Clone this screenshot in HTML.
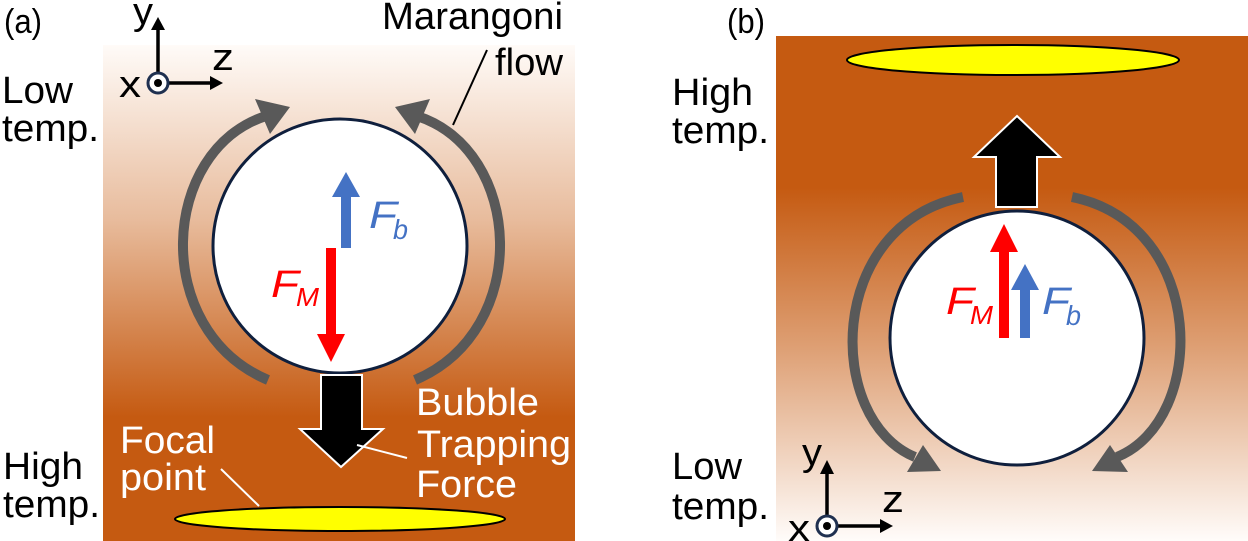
<!DOCTYPE html>
<html><head><meta charset="utf-8"><style>html,body{margin:0;padding:0;background:#fff}svg{display:block}</style></head>
<body>
<svg width="1248" height="541" viewBox="0 0 1248 541" xmlns="http://www.w3.org/2000/svg" font-family="Liberation Sans, Arial, sans-serif">
<defs>
<linearGradient id="ga" x1="0" y1="45" x2="0" y2="541" gradientUnits="userSpaceOnUse">
<stop offset="0" stop-color="#fffbf8"/><stop offset="0.35" stop-color="#e8bc9d"/><stop offset="0.75" stop-color="#c55a11"/><stop offset="1" stop-color="#c55a11"/>
</linearGradient>
<linearGradient id="gb" x1="0" y1="36" x2="0" y2="541" gradientUnits="userSpaceOnUse">
<stop offset="0" stop-color="#c55a11"/><stop offset="0.3" stop-color="#c55a11"/><stop offset="0.62" stop-color="#dea075"/><stop offset="1" stop-color="#fffcfa"/>
</linearGradient>
</defs>
<!-- Panel a -->
<rect x="103" y="45" width="472" height="496" fill="url(#ga)"/>
<ellipse cx="340" cy="519" rx="165" ry="12" fill="#ffff00" stroke="#000" stroke-width="2"/>
<g fill="none" stroke="#595959" stroke-width="10">
<path d="M268,380 C150,330 160,150 266,116"/>
<path d="M415,380 C533,330 523,150 417,116"/>
</g>
<g fill="#595959">
<polygon points="290,107 255,99 270,134"/>
<polygon points="395,107 430,99 415,134"/>
</g>
<circle cx="340" cy="246" r="127" fill="#fff" stroke="#0f1f3d" stroke-width="3"/>
<polygon points="321,375 362,375 362,429 383,429 341,467 300,429 321,429" fill="#000" stroke="#fff" stroke-width="2"/>
<rect x="341" y="195" width="10" height="53" fill="#4472c4"/>
<polygon points="332,197 360,197 346,172" fill="#4472c4"/>
<rect x="326" y="248" width="10" height="90" fill="#ff0000"/>
<polygon points="317,334 345,334 331,362" fill="#ff0000"/>
<text x="369" y="228" font-size="38" font-style="italic" fill="#4472c4" textLength="28" lengthAdjust="spacingAndGlyphs">F</text>
<text x="393" y="239" font-size="28" font-style="italic" fill="#4472c4" textLength="15" lengthAdjust="spacingAndGlyphs">b</text>
<text x="271" y="297" font-size="38" font-style="italic" fill="#ff0000" textLength="28" lengthAdjust="spacingAndGlyphs">F</text>
<text x="296" y="306" font-size="26" font-style="italic" fill="#ff0000" textLength="23" lengthAdjust="spacingAndGlyphs">M</text>
<!-- axes a -->
<line x1="158" y1="83" x2="158" y2="28" stroke="#000" stroke-width="3.5"/>
<polygon points="151,30 165,30 158,17" fill="#000"/>
<line x1="158" y1="83" x2="212" y2="83" stroke="#000" stroke-width="3.5"/>
<polygon points="210,76 210,90 223,83" fill="#000"/>
<circle cx="158" cy="83" r="10" fill="#fff" stroke="#1f3050" stroke-width="3"/>
<circle cx="158" cy="83" r="4" fill="#000"/>
<text x="133" y="24" font-size="38" textLength="20" lengthAdjust="spacingAndGlyphs">y</text>
<text x="212" y="70" font-size="38" textLength="22" lengthAdjust="spacingAndGlyphs">z</text>
<text x="119" y="97" font-size="38" textLength="22" lengthAdjust="spacingAndGlyphs">x</text>
<!-- labels a -->
<text x="4" y="33" font-size="34" textLength="38" lengthAdjust="spacingAndGlyphs">(a)</text>
<g font-size="38">
<text x="2" y="103" textLength="71" lengthAdjust="spacingAndGlyphs">Low</text>
<text x="2" y="141" textLength="97" lengthAdjust="spacingAndGlyphs">temp.</text>
<text x="3" y="479" textLength="80" lengthAdjust="spacingAndGlyphs">High</text>
<text x="3" y="517" textLength="97" lengthAdjust="spacingAndGlyphs">temp.</text>
<text x="382" y="29" textLength="181" lengthAdjust="spacingAndGlyphs">Marangoni</text>
<text x="495" y="75" textLength="68" lengthAdjust="spacingAndGlyphs">flow</text>
</g>
<line x1="487" y1="50" x2="453" y2="125" stroke="#000" stroke-width="2"/>
<g fill="#fff" font-size="38">
<text x="120" y="453" textLength="95" lengthAdjust="spacingAndGlyphs">Focal</text>
<text x="120" y="490" textLength="86" lengthAdjust="spacingAndGlyphs">point</text>
<text x="416" y="415" textLength="123" lengthAdjust="spacingAndGlyphs">Bubble</text>
<text x="417" y="457" textLength="154" lengthAdjust="spacingAndGlyphs">Trapping</text>
<text x="416" y="497" textLength="101" lengthAdjust="spacingAndGlyphs">Force</text>
</g>
<line x1="221" y1="469" x2="259" y2="506" stroke="#fff" stroke-width="2"/>
<line x1="357" y1="445" x2="407" y2="458" stroke="#fff" stroke-width="2"/>
<!-- Panel b -->
<rect x="776" y="36" width="472" height="505" fill="url(#gb)"/>
<ellipse cx="1013" cy="60" rx="166" ry="15" fill="#ffff00" stroke="#000" stroke-width="2"/>
<g fill="none" stroke="#595959" stroke-width="10">
<path d="M963,197 C825,225 825,420 915,457"/>
<path d="M1072,197 C1208,225 1208,420 1117,457"/>
</g>
<g fill="#595959">
<polygon points="941,471 907,472 923,445"/>
<polygon points="1092,471 1128,472 1110,445"/>
</g>
<circle cx="1017" cy="338" r="127" fill="#fff" stroke="#0f1f3d" stroke-width="3"/>
<polygon points="996,207 1037,207 1037,157 1060,157 1017,116 974,157 996,157" fill="#000" stroke="#fff" stroke-width="2"/>
<rect x="999" y="250" width="10" height="88" fill="#ff0000"/>
<polygon points="990,252 1018,252 1004,224" fill="#ff0000"/>
<rect x="1020" y="288" width="10" height="50" fill="#4472c4"/>
<polygon points="1011,290 1039,290 1025,264" fill="#4472c4"/>
<text x="946" y="314" font-size="38" font-style="italic" fill="#ff0000" textLength="28" lengthAdjust="spacingAndGlyphs">F</text>
<text x="970" y="324" font-size="26" font-style="italic" fill="#ff0000" textLength="23" lengthAdjust="spacingAndGlyphs">M</text>
<text x="1042" y="314" font-size="38" font-style="italic" fill="#4472c4" textLength="28" lengthAdjust="spacingAndGlyphs">F</text>
<text x="1066" y="325" font-size="28" font-style="italic" fill="#4472c4" textLength="15" lengthAdjust="spacingAndGlyphs">b</text>
<!-- axes b -->
<line x1="827" y1="526" x2="827" y2="472" stroke="#000" stroke-width="3.5"/>
<polygon points="820,474 834,474 827,460" fill="#000"/>
<line x1="827" y1="526" x2="882" y2="526" stroke="#000" stroke-width="3.5"/>
<polygon points="880,519 880,533 893,526" fill="#000"/>
<circle cx="827" cy="526" r="10" fill="#fff" stroke="#1f3050" stroke-width="3"/>
<circle cx="827" cy="526" r="4" fill="#000"/>
<text x="802" y="465" font-size="38" textLength="20" lengthAdjust="spacingAndGlyphs">y</text>
<text x="882" y="512" font-size="38" textLength="22" lengthAdjust="spacingAndGlyphs">z</text>
<text x="788" y="541" font-size="38" textLength="22" lengthAdjust="spacingAndGlyphs">x</text>
<text x="727" y="33" font-size="34" textLength="38" lengthAdjust="spacingAndGlyphs">(b)</text>
<g font-size="38">
<text x="672" y="105" textLength="81" lengthAdjust="spacingAndGlyphs">High</text>
<text x="672" y="143" textLength="97" lengthAdjust="spacingAndGlyphs">temp.</text>
<text x="672" y="479" textLength="70" lengthAdjust="spacingAndGlyphs">Low</text>
<text x="672" y="519" textLength="97" lengthAdjust="spacingAndGlyphs">temp.</text>
</g>
</svg>
</body></html>
